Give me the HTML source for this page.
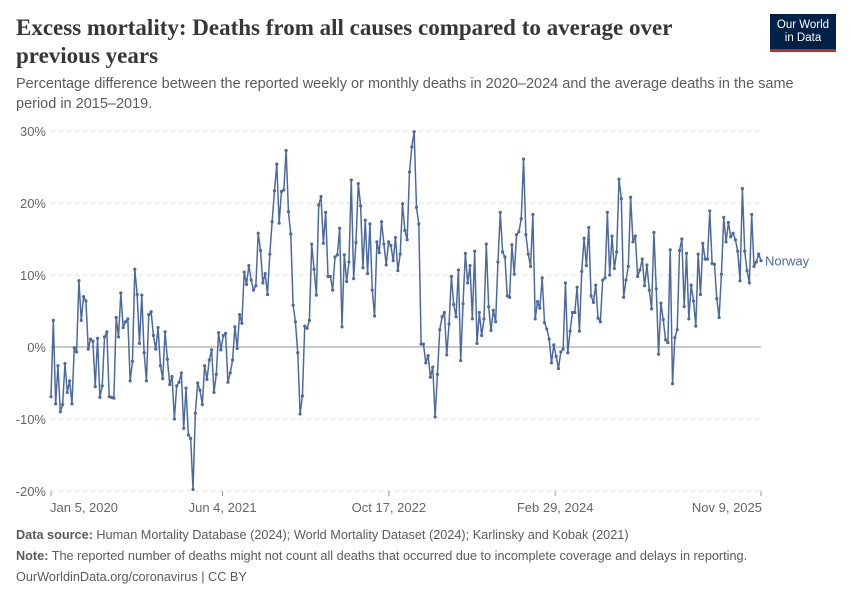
<!DOCTYPE html>
<html><head><meta charset="utf-8">
<style>
body{margin:0;background:#fff;width:850px;height:600px;overflow:hidden;font-family:"Liberation Sans",sans-serif;}
.t{position:absolute;white-space:nowrap}
</style></head>
<body>
<div style="position:relative;width:850px;height:600px">
<div class="t" style="left:16px;top:14px;font-family:'Liberation Serif',serif;font-size:23px;font-weight:bold;color:#373737;line-height:28px;white-space:normal;width:720px">Excess mortality: Deaths from all causes compared to average over previous years</div>
<div class="t" style="left:16px;top:74px;font-size:14.5px;color:#5b5b5b;line-height:20px;white-space:normal;width:790px">Percentage difference between the reported weekly or monthly deaths in 2020–2024 and the average deaths in the same period in 2015–2019.</div>
<div style="position:absolute;left:770px;top:14px;width:66px;height:38px;background:#002147;border-bottom:3px solid #ce261e;box-sizing:border-box;color:#fff;font-size:11.5px;line-height:13px;text-align:center;padding-top:5px">Our World<br>in Data</div>
<svg id="chart" width="850" height="600" style="position:absolute;left:0;top:0"></svg>
<div class="t" style="left:16px;top:528px;font-size:12.7px;color:#5b5b5b"><b>Data source:</b> Human Mortality Database (2024); World Mortality Dataset (2024); Karlinsky and Kobak (2021)</div>
<div class="t" style="left:16px;top:549px;font-size:12.7px;color:#5b5b5b"><b>Note:</b> The reported number of deaths might not count all deaths that occurred due to incomplete coverage and delays in reporting.</div>
<div class="t" style="left:16px;top:570px;font-size:12.7px;color:#5b5b5b">OurWorldinData.org/coronavirus | CC BY</div>
</div>
<script>
const yTicks=[-20,-10,0,10,20,30];
const xTickDays=[0,516,1016,1516,2135];
const xTickLabels=["Jan 5, 2020","Jun 4, 2021","Oct 17, 2022","Feb 29, 2024","Nov 9, 2025"];
const seriesName="Norway";
const norway=[-6.9,3.7,-7.9,-2.6,-9,-8,-2.3,-6.3,-4.7,-7.9,-0.1,-0.7,9.2,3.7,7,6.4,-0.3,1.1,0.8,-5.5,1.2,-7,-5.4,1.4,2.1,-6.9,-7,-7.1,4.1,1.4,7.5,2.7,3.5,3.9,-4.7,-2,10.8,7.3,0.5,7.2,-0.8,-4.7,4.5,4.9,1.6,-0.3,2.7,-2.6,-4.4,2.1,-1.7,-5.2,-4.1,-10,-5.4,-4.9,-3.6,-11.3,-5.7,-12.2,-12.7,-19.8,-9.2,-5,-6,-8,-2.6,-4.5,-1.8,-0.4,-6.3,-3.8,2,-0.4,1.6,1.9,-4.9,-3.6,-1.8,2.8,
-0.2,4.5,3.3,10.4,8.7,11.3,9.3,7.9,8.5,15.8,13.4,8.9,10.2,7.3,12.9,17.4,21.7,25.4,17.2,21.6,21.8,27.3,18.8,15.7,5.8,3.5,-0.8,-9.3,-6.8,2.9,2.6,3.7,14.3,10.8,7.2,19.7,20.9,14.4,18.7,9.8,9.8,7.9,12.5,12.8,16.5,2.8,12.8,9.1,11.8,23.2,9.5,14.5,22.7,19.6,11.0,17.6,10.2,17.1,7.9,4.3,14.6,13.1,17.4,14.3,11.4,14.6,14.1,12.0,15.2,10.6,12.9,19.9,16.2,14.9,24.3,27.8,29.9,
19.4,17.1,0.4,0.4,-2.2,-1.2,-4.2,-2.8,-9.7,-3.8,2.4,4.2,4.8,-1.1,3.2,9.8,5.9,4.2,10.7,-1.9,6.0,13.0,8.9,11.3,3.9,13.3,0.5,4.8,1.6,3.9,14.3,5.6,2.3,5.1,3.5,11.8,18.7,13.2,12.5,7.1,6.9,14.2,10.1,15.6,16.0,17.8,26.1,15.6,12.9,11.2,18.4,3.9,6.3,5.4,9.6,3.4,2.5,1.1,-2.2,0.3,-1.3,-3.0,-0.7,-0.3,8.9,-0.8,2.2,4.8,4.8,8.3,2.2,10.5,15.1,
11.3,16.6,7.1,6.2,8.6,4.0,3.5,9.3,9.6,18.7,10.0,15.4,10.9,13.2,23.3,20.6,6.9,9.3,11.2,20.8,14.6,15.4,9.8,10.7,12.2,8.5,11.4,7.9,5.3,15.9,8.1,-1.0,6.1,3.8,1.0,0.6,13.5,-5.1,1.3,2.4,13.4,15.0,5.6,13.0,3.9,8.6,6.4,2.9,12.9,7.3,14.4,12.2,12.2,18.9,11.6,11.5,6.7,4.1,10.1,18.0,14.6,17.3,15.3,15.8,14.9,13.3,9.2,22.0,13.3,10.6,8.9,18.4,11.2,11.8,12.9,12.0];
const X0=51,X1=761,Y0=347,PPU=7.2,TOTAL=2135;
const xs=d=>X0+d/TOTAL*(X1-X0);
const ys=v=>Y0-v*PPU;
const NS="http://www.w3.org/2000/svg";
const svg=document.getElementById('chart');
function mk(tag,attrs){const e=document.createElementNS(NS,tag);for(const k in attrs)e.setAttribute(k,attrs[k]);svg.appendChild(e);return e;}
yTicks.forEach(t=>{
  const l=mk('line',{x1:X0,x2:X1,y1:ys(t),y2:ys(t),stroke:t===0?'#b8b8b8':'#dddddd','stroke-width':t===0?1.5:1,'stroke-dasharray':t===0?'none':'4,4'});
  
  
  const tx=mk('text',{x:46,y:ys(t)+5,'text-anchor':'end','font-size':13,fill:'#666','font-family':'Liberation Sans, sans-serif'});
  tx.textContent=t+'%';
  
  
});
xTickDays.forEach((d,i)=>{
  const l=mk('line',{x1:xs(d),x2:xs(d),y1:491,y2:496,stroke:'#999'});
  
  
  const tx=mk('text',{x:i===4?xs(d)+1:xs(d)+(i===0?33:0),y:512,'text-anchor':i===4?'end':'middle','font-size':13,fill:'#666','font-family':'Liberation Sans, sans-serif'});
  tx.textContent=xTickLabels[i];
  
  
});
const pts=norway.map((v,i)=>[xs(i*7),ys(v)]);
const line=mk('polyline',{points:pts.map(p=>p.join(',')).join(' '),fill:'none',stroke:'#4c6a9c','stroke-width':1.5,'stroke-linejoin':'round'});


pts.forEach(p=>{
  const c=mk('circle',{cx:p[0],cy:p[1],r:1.6,fill:'#4c6a9c'});
  
  
});
const last=pts[pts.length-1];
const lab=mk('text',{x:last[0]+4,y:last[1]+5,'font-size':13,fill:'#4c6a9c','font-family':'Liberation Sans, sans-serif'});
lab.textContent=seriesName;


</script>
</body></html>
